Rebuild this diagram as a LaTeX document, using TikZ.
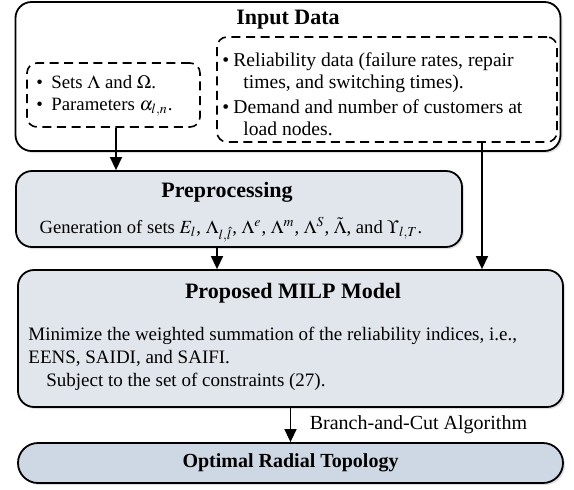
\documentclass[tikz,border=0pt]{standalone}
\usepackage{mathptmx}
\usepackage{fontspec}
\setmainfont{Liberation Serif}
\usetikzlibrary{positioning,shadows,arrows.meta}

\definecolor{procfill}{RGB}{225,230,237}
\definecolor{outfill}{RGB}{206,216,228}

\tikzset{
    box/.style={draw, line width=0.9pt, rounded corners=8pt, inner sep=0pt,
        drop shadow={opacity=0.25, shadow xshift=1pt, shadow yshift=-1pt}},
    dashbox/.style={draw, line width=0.8pt, dash pattern=on 4.5pt off 2.8pt,
        rounded corners=5pt, inner sep=0pt},
    title/.style={font=\fontsize{11}{13}\selectfont\bfseries},
    body/.style={font=\fontsize{9.4}{11}\selectfont, align=left, inner sep=0pt},
    flow/.style={-{Triangle[length=6.5pt,width=6pt]}, line width=0.7pt},
}

\begin{document}
\begin{tikzpicture}[x=0.5pt, y=-0.5pt]
    \useasboundingbox (0,0) rectangle (574,489);

    % Input data with its two dashed groups
    \node [box, fill=white, minimum width=272.5pt, minimum height=74.5pt] (input) at (288,76.5) {};
    \node [title] (inputtitle) at (288,20) {Input Data};
    \node [dashbox, minimum width=86.5pt, minimum height=32pt] (sets) at (113.5,95) {};
    \node [body, anchor=west] (setstext) at (36,96) {\makebox[7.5pt][l]{\textbullet}Sets $\Lambda$ and $\Omega$.\\
        \makebox[7.5pt][l]{\textbullet}Parameters $\alpha_{l,n}$.};
    \node [dashbox, minimum width=170pt, minimum height=52.5pt] (reldata) at (387,89.5) {};
    \node [body, anchor=west, font=\fontsize{9.8}{11}\selectfont] (reltext) at (222,94) {\makebox[5.5pt][l]{\textbullet}Reliability data (failure rates, repair\\
        \hspace*{10.5pt}times, and switching times).\\[1.5pt]
        \makebox[5.5pt][l]{\textbullet}Demand and number of customers at\\
        \hspace*{10.5pt}load nodes.};

    % Preprocessing
    \node [box, fill=procfill, minimum width=223pt, minimum height=38pt] (prep) at (239,209) {};
    \node [title] (preptitle) at (227,192) {Preprocessing};
    \node [body, font=\fontsize{9.3}{11}\selectfont] (preptext) at (231,230) {Generation of sets $E_l$, $\Lambda_{l,\hat{l}}$, $\Lambda^e$, $\Lambda^m$, $\Lambda^S$, $\tilde{\Lambda}$, and $\Upsilon_{l,T}$.};

    % MILP model
    \node [box, fill=procfill, minimum width=272.5pt, minimum height=68.5pt] (milp) at (290.5,338.5) {};
    \node [title] (milptitle) at (293,293) {Proposed MILP Model};
    \node [body, anchor=west, font=\fontsize{9.5}{11.5}\selectfont] (milptext) at (28,359) {Minimize the weighted summation of the reliability indices, i.e.,\\
        EENS, SAIDI, and SAIFI.\\
        \hspace*{9pt}Subject to the set of constraints (27).};

    % Output
    \node [box, fill=outfill, rounded corners=10pt, minimum width=272.5pt, minimum height=20pt,
        font=\fontsize{10}{12}\selectfont\bfseries] (opt) at (290.5,463) {Optimal Radial Topology};

    \draw [flow] ([xshift=1.25pt]sets.south) -- ([xshift=1.25pt]sets.south |- prep.north);
    \draw [flow] ([xshift=47.5pt]reldata.south) -- ([xshift=47.5pt]reldata.south |- milp.north);
    \draw [flow] ([xshift=-11pt]prep.south) -- ([xshift=-11pt]prep.south |- milp.north);
    \draw [flow] (milp.south) -- (opt.north)
        node [midway, right=6pt, font=\fontsize{10}{12}\selectfont] (algo) {Branch-and-Cut Algorithm};

\end{tikzpicture}
\end{document}
